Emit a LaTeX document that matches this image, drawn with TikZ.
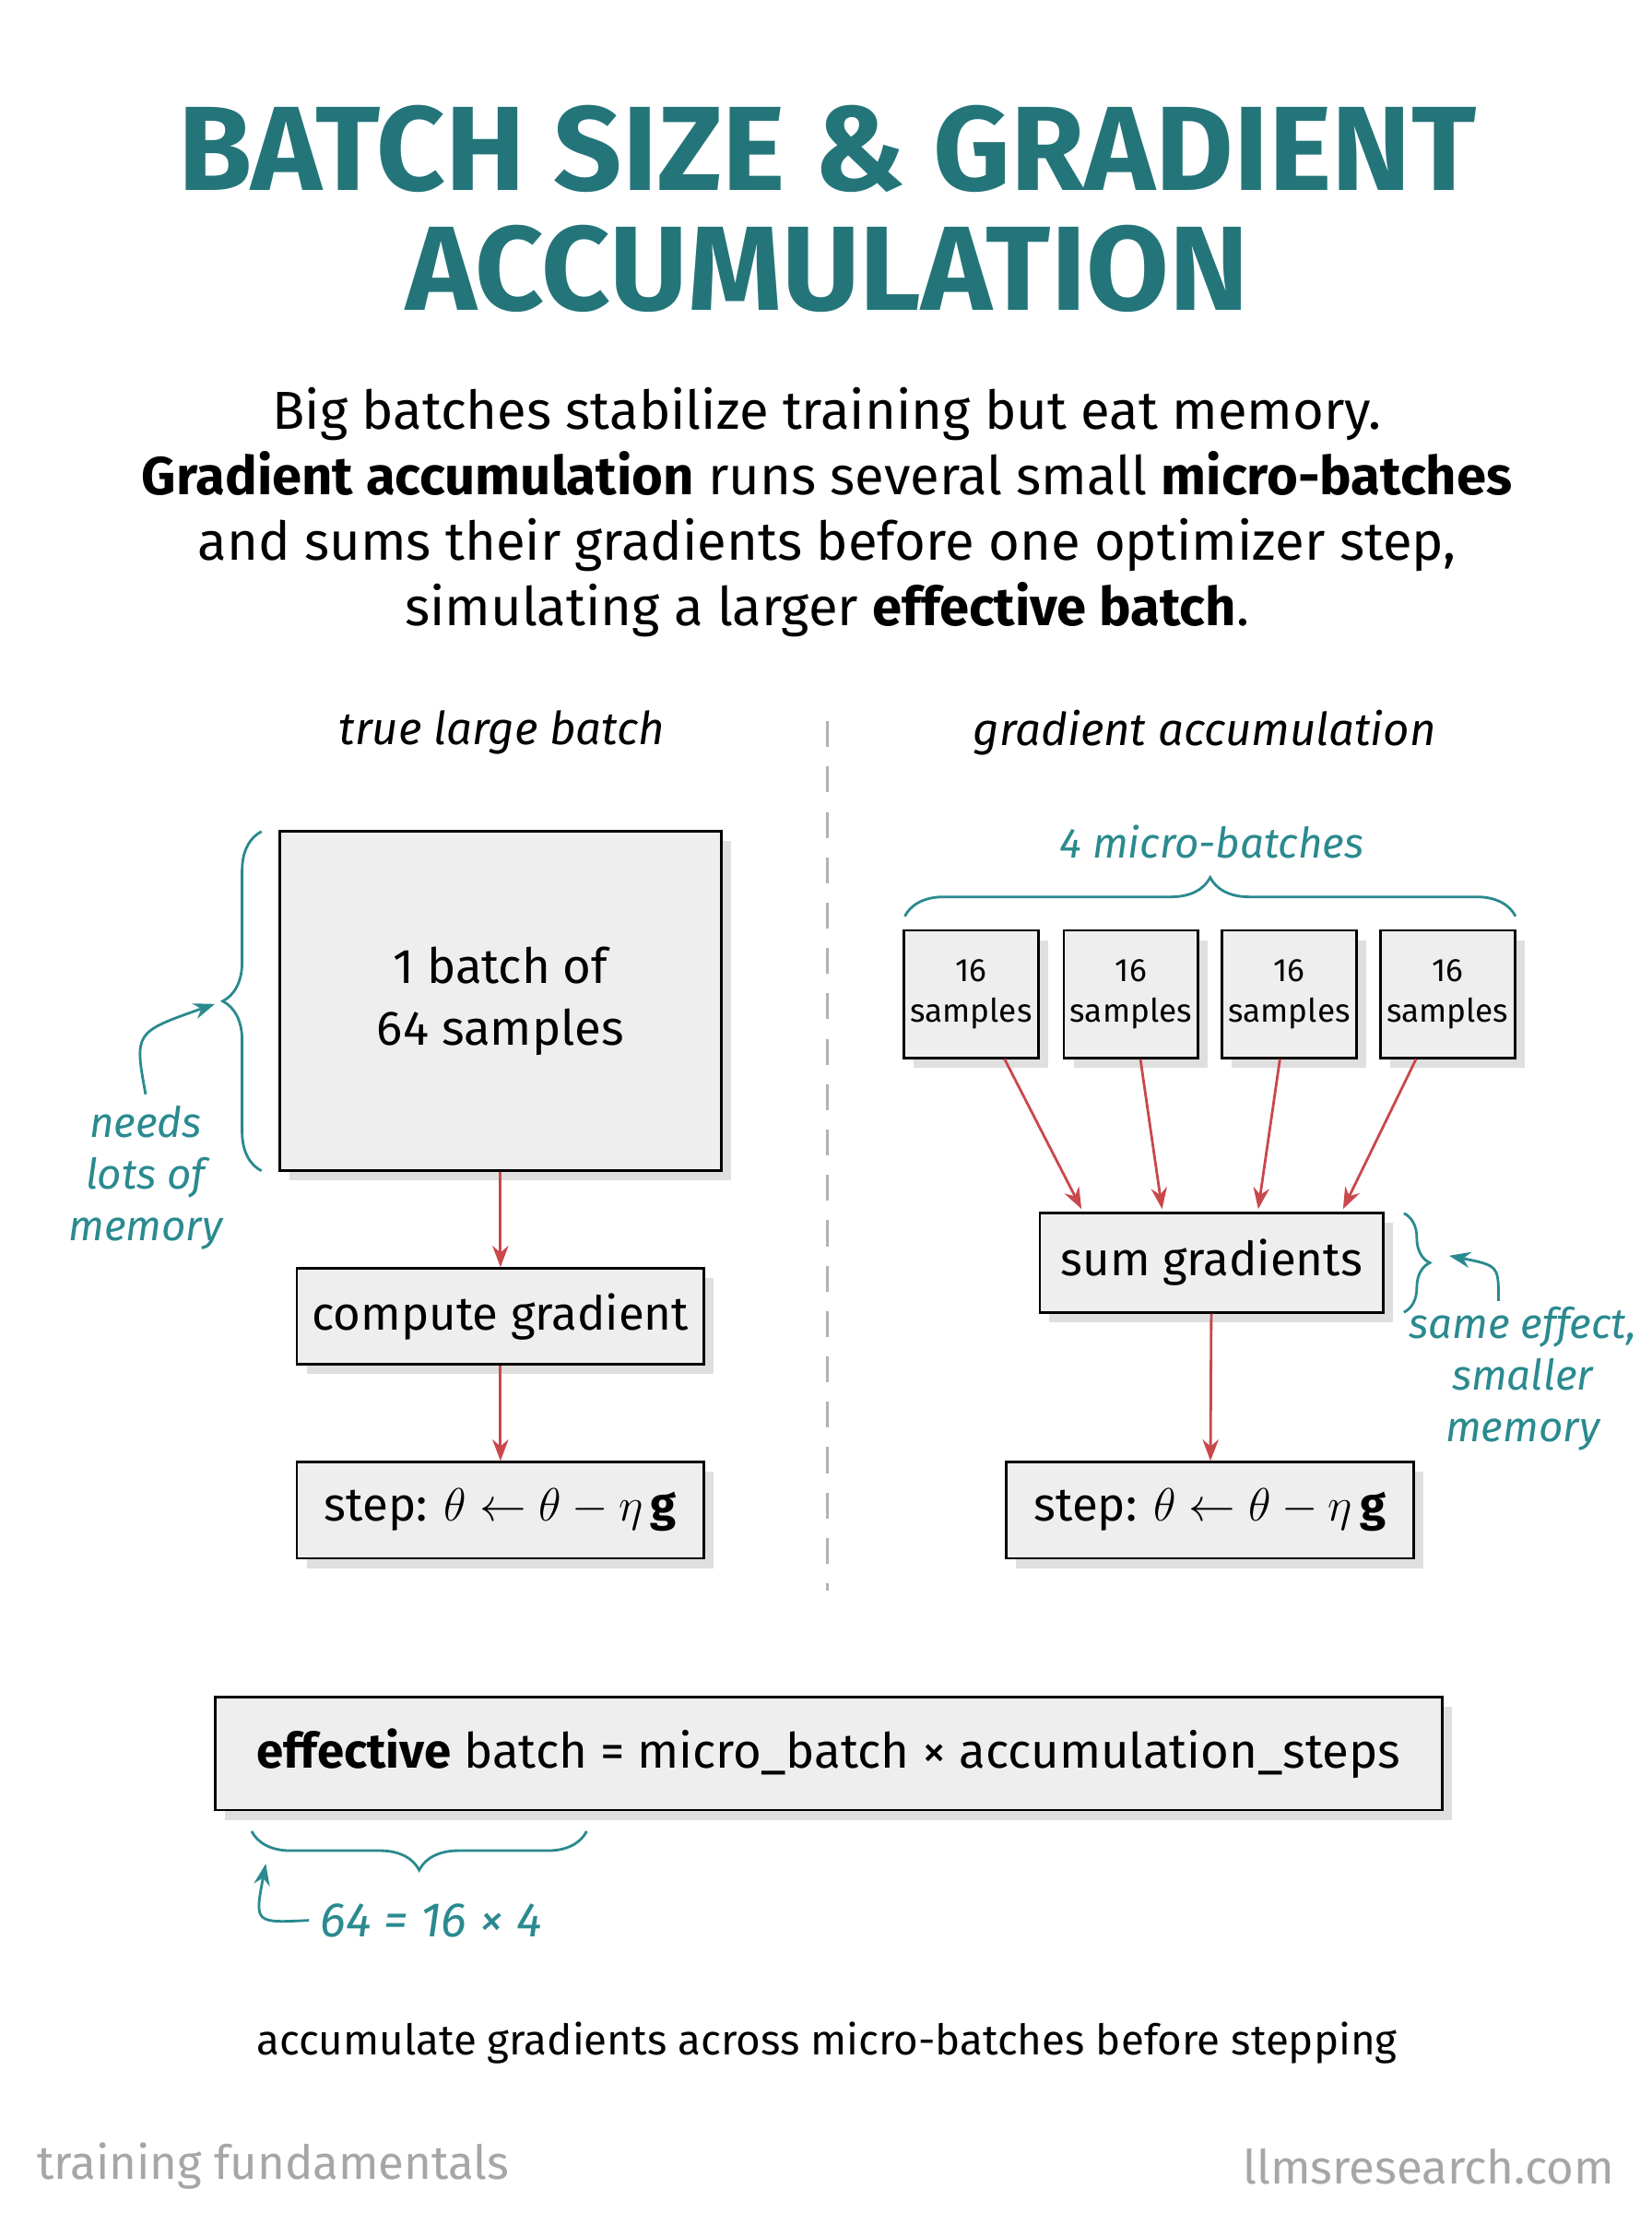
\documentclass[tikz,border=0pt]{standalone}
\usepackage{fontspec}
\setmainfont{Fira Sans}
\usetikzlibrary{shapes,arrows.meta,positioning,decorations.pathreplacing,shadows,calc}
\definecolor{teal1}{HTML}{2A8A8F}
\definecolor{red1}{HTML}{C9484C}
\definecolor{boxfill}{HTML}{EEEEEE}

\begin{document}
\begin{tikzpicture}[x=0.01534cm,y=-0.01534cm,
    >=Stealth,
    box/.style={rectangle,draw,thick,fill=boxfill,align=center,inner sep=0pt,
      drop shadow={shadow xshift=3pt,shadow yshift=-3pt,opacity=0.25}},
    flow/.style={->,red1,thick},
    note/.style={teal1,font=\itshape\fontsize{13}{16}\selectfont,align=center},
    brace/.style={decorate,decoration={brace,amplitude=12pt},teal1,thick}]
    \useasboundingbox (0,0) rectangle (1168,1565);
    \fill[white] (0,0) rectangle (1168,1565);

    % title
    \node[font=\bfseries\fontsize{37}{44}\selectfont,text=teal1!85!black] (T1) at (585,105) {BATCH SIZE \& GRADIENT};
    \node[font=\bfseries\fontsize{37}{44}\selectfont,text=teal1!85!black] (T2) at (585,190) {ACCUMULATION};
    \node[font=\fontsize{16.5}{20.2}\selectfont,align=center] (sub) at (585,362) {Big batches stabilize training but eat memory.\\
      \textbf{Gradient accumulation} runs several small \textbf{micro-batches}\\
      and sums their gradients before one optimizer step,\\
      simulating a larger \textbf{effective batch}.};

    % columns
    \node[font=\itshape\fontsize{14}{17}\selectfont] (L) at (355,518) {true large batch};
    \node[font=\itshape\fontsize{14}{17}\selectfont] (R) at (852,518) {gradient accumulation};
    \coordinate (d1) at (585,510);
    \coordinate (d2) at (585,1125);
    \draw[gray!60,thick,dash pattern=on 8pt off 6pt] (d1) -- (d2);

    % left
    \node[box,minimum width=312*0.01534cm,minimum height=240*0.01534cm,font=\fontsize{15}{19}\selectfont] (big) at (354,708) {1 batch of\\64 samples};
    \node[box,minimum width=288*0.01534cm,minimum height=68*0.01534cm,font=\fontsize{14.5}{18}\selectfont] (grad) at (354,931) {compute gradient};
    \node[box,minimum width=288*0.01534cm,minimum height=68*0.01534cm,font=\fontsize{14.5}{18}\selectfont] (stepL) at (354,1068) {step: $\theta \leftarrow \theta - \eta\,\mathbf{g}$};
    \draw[flow] (big) -- (grad);
    \draw[flow] (grad) -- (stepL);
    \draw[brace] (185,828) -- (185,588) coordinate[midway] (bm);
    \node[note] (mem) at (103,833) {needs\\lots of\\memory};
    \draw[->,teal1,thick] (mem.north) .. controls (95,730) .. (152,710);

    % right
    \foreach \i/\x in {1/687,2/800,3/912,4/1024}
      \node[box,minimum width=95*0.01534cm,minimum height=90*0.01534cm,font=\fontsize{10}{12.5}\selectfont] (mb\i) at (\x,703) {16\\samples};
    \draw[brace] (640,648) -- (1072,648) coordinate[midway] (tm);
    \node[note] (four) at (857,595) {4 micro-batches};
    \node[box,minimum width=243*0.01534cm,minimum height=70*0.01534cm,font=\fontsize{14.5}{18}\selectfont] (sum) at (857,893) {sum gradients};
    \draw[flow] (mb1) -- (765,855);
    \draw[flow] (mb2) -- (822,855);
    \draw[flow] (mb3) -- (890,855);
    \draw[flow] (mb4) -- (950,855);
    \node[box,minimum width=288*0.01534cm,minimum height=68*0.01534cm,font=\fontsize{14.5}{18}\selectfont] (stepR) at (856,1068) {step: $\theta \leftarrow \theta - \eta\,\mathbf{g}$};
    \draw[flow] (sum) -- (stepR);
    \draw[brace,decoration={amplitude=8pt}] (993,858) -- (993,928);
    \node[note] (same) at (1077,975) {same effect,\\smaller\\memory};
    \draw[->,teal1,thick] (1060,920) .. controls (1060,895) .. (1025,888);

    % formula
    \node[box,minimum width=868*0.01534cm,minimum height=80*0.01534cm,font=\fontsize{15}{19}\selectfont] (eff) at (586,1240) {\textbf{effective} batch = micro\_batch × accumulation\_steps};
    \draw[brace] (415,1295) -- (178,1295);
    \node[note,font=\itshape\fontsize{15}{18}\selectfont] (eq) at (305,1358) {64 = 16 × 4};
    \draw[->,teal1,thick] (eq.west) .. controls (180,1360) .. (188,1318);

    \node[font=\fontsize{13}{16}\selectfont] (cap) at (585,1445) {accumulate gradients across micro-batches before stepping};
    \node[font=\fontsize{14.5}{18}\selectfont,text=gray!70,anchor=west] (foot1) at (18,1532) {training fundamentals};
    \node[font=\fontsize{14.5}{18}\selectfont,text=gray!70,anchor=east] (foot2) at (1150,1532) {llmsresearch.com};
\end{tikzpicture}
\end{document}
